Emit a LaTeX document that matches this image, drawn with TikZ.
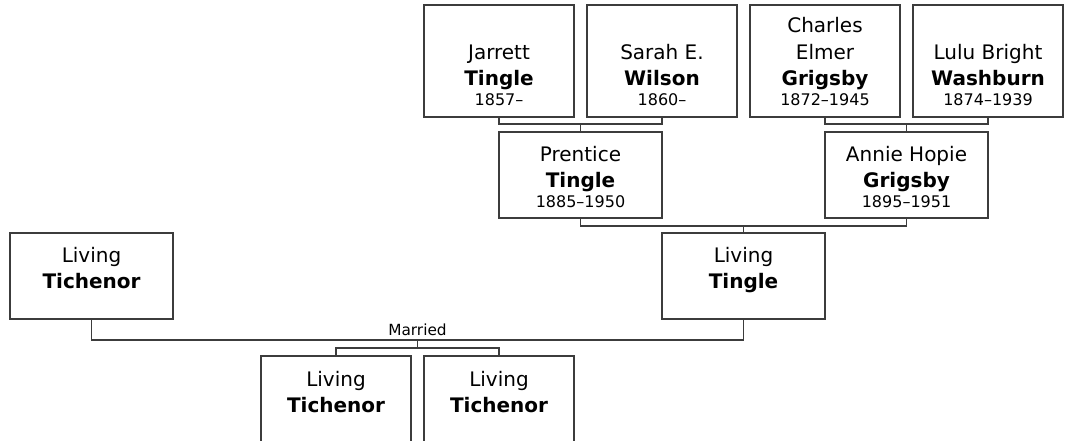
\documentclass[tikz,border=0pt]{standalone}
\usepackage{fontspec}
\setmainfont{DejaVu Sans}
\definecolor{ln}{RGB}{60,60,60}
\begin{document}
\begin{tikzpicture}[x=0.75pt,y=-0.75pt,
  pbox/.style={draw=ln, line width=0.9pt, rectangle, inner sep=0pt, outer sep=0pt, fill=white},
  wbox/.style={pbox, minimum width=122.25pt, minimum height=64.5pt},
  nbox/.style={pbox, minimum width=112.5pt, minimum height=64.5pt},
  tbox/.style={pbox, minimum width=112.5pt, minimum height=84pt},
  nm/.style={anchor=base, inner sep=0pt, font=\fontsize{15}{18}\selectfont},
  sn/.style={anchor=base, inner sep=0pt, font=\fontsize{15}{18}\selectfont\bfseries},
  dt/.style={anchor=base, inner sep=0pt, font=\fontsize{12}{14}\selectfont},
  lbl/.style={anchor=base, inner sep=0pt, font=\fontsize{11.5}{14}\selectfont},
  conn/.style={draw=ln, line width=0.9pt}]
\useasboundingbox (0,0) rectangle (1066,441);
\clip (0,0) rectangle (1066,441);

% boxes
\node[tbox] (jarrett) at (499,61) {};
\node[tbox] (sarah) at (662,61) {};
\node[tbox] (charles) at (825,61) {};
\node[tbox] (lulu) at (988,61) {};
\node[wbox] (prentice) at (580.5,175) {};
\node[wbox] (annie) at (906.5,175) {};
\node[wbox] (ltich) at (91.5,276) {};
\node[wbox] (ltingle) at (743.5,276) {};
\node[nbox] (child1) at (336,399) {};
\node[nbox] (child2) at (499,399) {};

% texts
\node[nm] (jarrett-1) at (499,60) {Jarrett};
\node[sn] (jarrett-2) at (499,86) {Tingle};
\node[dt] (jarrett-3) at (499,106) {1857–};
\node[nm] (sarah-1) at (662,60) {Sarah E.};
\node[sn] (sarah-2) at (662,86) {Wilson};
\node[dt] (sarah-3) at (662,106) {1860–};
\node[nm] (charles-0) at (825,33) {Charles};
\node[nm] (charles-1) at (825,60) {Elmer};
\node[sn] (charles-2) at (825,86) {Grigsby};
\node[dt] (charles-3) at (825,106) {1872–1945};
\node[nm] (lulu-1) at (988,60) {Lulu Bright};
\node[sn] (lulu-2) at (988,86) {Washburn};
\node[dt] (lulu-3) at (988,106) {1874–1939};
\node[nm] (prentice-1) at (580.5,162) {Prentice};
\node[sn] (prentice-2) at (580.5,188) {Tingle};
\node[dt] (prentice-3) at (580.5,208) {1885–1950};
\node[nm] (annie-1) at (906.5,162) {Annie Hopie};
\node[sn] (annie-2) at (906.5,188) {Grigsby};
\node[dt] (annie-3) at (906.5,208) {1895–1951};
\node[nm] (ltich-1) at (91.5,263) {Living};
\node[sn] (ltich-2) at (91.5,289) {Tichenor};
\node[nm] (ltingle-1) at (743.5,263) {Living};
\node[sn] (ltingle-2) at (743.5,289) {Tingle};
\node[nm] (child1-1) at (336,386) {Living};
\node[sn] (child1-2) at (336,412) {Tichenor};
\node[nm] (child2-1) at (499,386) {Living};
\node[sn] (child2-2) at (499,412) {Tichenor};

% connectors
\draw[conn] (jarrett.south) -- ++(0,7) -| (sarah.south);
\draw[conn] (prentice.north) -- ++(0,-8);
\draw[conn] (charles.south) -- ++(0,7) -| (lulu.south);
\draw[conn] (annie.north) -- ++(0,-8);
\draw[conn] (prentice.south) -- ++(0,8) -| (annie.south);
\draw[conn] (ltingle.north) -- ++(0,-7);
\draw[conn] (ltich.south) -- ++(0,21) -| (ltingle.south);
\coordinate (marr) at (417.5,340);
\node[lbl] (married) at (417.5,335) {Married};
\draw[conn] (marr) -- ++(0,8);
\draw[conn] (child1.north) -- ++(0,-8) -| (child2.north);
\end{tikzpicture}
\end{document}
